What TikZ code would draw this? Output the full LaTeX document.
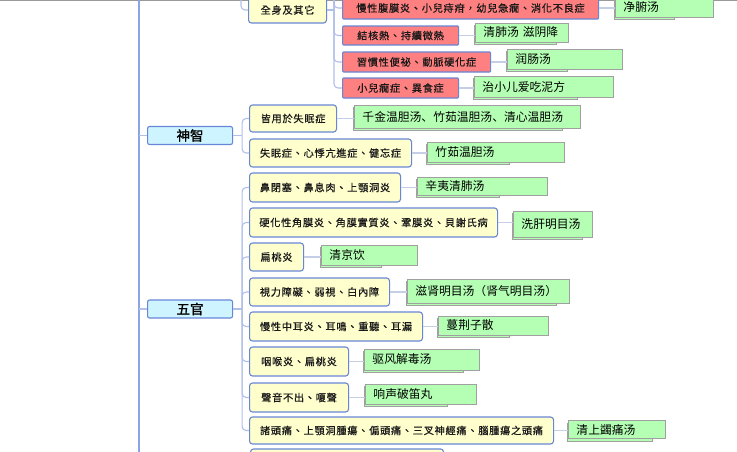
\documentclass[tikz,border=0pt]{standalone}
\usepackage{fontspec}
\newfontfamily\tcfont[LetterSpace=7,FakeBold=0.6]{Noto Sans CJK TC}
\newfontfamily\tcheavy[FakeBold=1.2]{Noto Sans CJK TC}
\newfontfamily\scfont{Noto Sans CJK SC}
\usetikzlibrary{positioning}
\definecolor{lineblue}{RGB}{176,192,232}
\definecolor{spineblue}{RGB}{140,164,228}
\definecolor{boxblue}{RGB}{104,134,214}
\definecolor{topicfill}{RGB}{206,244,255}
\definecolor{subfill}{RGB}{255,255,206}
\definecolor{pinkfill}{RGB}{255,128,128}
\definecolor{leaffill}{RGB}{180,255,180}
\definecolor{leafedge}{RGB}{160,160,160}
\definecolor{gline}{RGB}{196,206,230}
\begin{document}
\begin{tikzpicture}[x=1pt,y=-1pt,
 topic/.style={draw=boxblue,fill=topicfill,line width=1.1pt,rounded corners=2pt,anchor=west,inner sep=0pt,minimum height=18pt,font=\tcheavy\fontsize{13.5}{14}\selectfont},
 subtopic/.style={draw=boxblue,fill=subfill,line width=1.1pt,rounded corners=3pt,anchor=west,inner sep=0pt,text=black!90,font=\tcfont\fontsize{10.2}{11}\selectfont},
 pinktopic/.style={draw=boxblue,fill=pinkfill,line width=1.1pt,rounded corners=1pt,anchor=west,inner sep=0pt,text=black!90,font=\tcfont\fontsize{10.2}{11}\selectfont},
 leaf/.style={draw=leafedge,fill=leaffill,line width=.9pt,anchor=west,inner xsep=8pt,inner ysep=0pt,align=left,font=\scfont\fontsize{11.8}{13}\selectfont},
 leafback/.style={draw=leafedge,fill=leaffill,line width=.9pt},
 branch/.style={draw=lineblue,line width=1.1pt},
 leafline/.style={draw=gline,line width=1.2pt}]
\useasboundingbox (0,0) rectangle (737,451);
\clip (0,0) rectangle (737,451);
\draw[black!40,line width=1.5pt] (0,.5) -- (737,.5);
\coordinate (sptop) at (139,-5);
\coordinate (spbot) at (139,460);
\draw[draw=spineblue,line width=1.1pt] (sptop) -- (spbot);
\node[topic,minimum width=85pt] (shenzhi) at (147,135.5) {神智};
\node[topic,minimum width=85pt] (wuguan) at (147,309) {五官};
\foreach \n/\x/\yc/\w/\h/\t in {
 quanshen/248/10/78/26/全身及其它,
 jieyong/249/118.5/87/27/皆用於失眠症,
 shimian/249/153/162/28/失眠症、心悸亢進症、健忘症,
 bibi/249/187.5/151/29/鼻閉塞、鼻息肉、上顎洞炎,
 yinghua/249/222.5/248/29/硬化性角膜炎、角膜實質炎、鞏膜炎、貝謝氏病,
 biantao/249/257/54/28/扁桃炎,
 shili/249/292/140/28/視力障礙、弱視、白內障,
 zhonger/249/326.5/173/29/慢性中耳炎、耳鳴、重聽、耳漏,
 yanhou/249/361.5/99/29/咽喉炎、扁桃炎,
 shengyin/249/397.5/99/29/聲音不出、嗄聲,
 zhutou/249/430.5/304/27/諸頭痛、上顎洞腫瘍、偏頭痛、三叉神經痛、腦腫瘍之頭痛,
 nextsub/250/463/193/28/{}}
 \node[subtopic,minimum width=\w pt,minimum height=\h pt] (\n) at (\x,\yc) {\t};
\foreach \n/\yc/\w/\h/\t in {
 pa/8/256/22/慢性腹膜炎、小兒痔疳，幼兒急癇、消化不良症,
 pb/35.5/116/19/結核熱、持續微熱,
 pc/62/148/20/習慣性便祕、動脈硬化症,
 pd/88/116/20/小兒癇症、異食症}
 \node[pinktopic,minimum width=\w pt,minimum height=\h pt] (\n) at (342,\yc) {\t};
\foreach \n/\x/\yc/\w/\h/\b/\t in {
 ga/615/7/98/20/60/净腑汤,
 gb/475/32.5/93/19/82/清肺汤 滋阴降,
 gc/507/59/115/20/61/润肠汤,
 gd/474/86.5/139/21/104/治小儿爱吃泥方,
 ge/354/116.5/226/23/209/千金温胆汤、竹茹温胆汤、清心温胆汤,
 gf/427/152/137/20/83/竹茹温胆汤,
 gg/417/186/130/18/83/辛夷清肺汤,
 gh/513/224/79/26/70/洗肝明目汤,
 gi/321/255/96/20/61/清京饮,
 gj/407/291/162/24/150/滋肾明目汤（肾气明目汤）,
 gk/438/325.5/110/19/72/蔓荆子散,
 gl/364/359.5/115/21/100/驱风解毒汤,
 gm/365/394/111/20/83/响声破笛丸,
 gn/568/429.5/97/18/85/清上蠲痛汤}{
 \pgfmathsetmacro{\tw}{\w-16}
 \draw[leafback] (\x-1,\yc-\h/2+2.5) rectangle (\x-1+\b,\yc+\h/2+2.5);
 \node[leaf,text width=\tw pt,minimum height=\h pt] (\n) at (\x,\yc) {\mbox{\t}};
}
% branches
\foreach \c in {shenzhi,wuguan}
 \draw[branch] (\c.west -| sptop) -- (\c.west);
\coordinate[right=9pt of shenzhi.east] (jshen);
\coordinate[right=9pt of wuguan.east] (jwu);
\coordinate (jtop) at (241,-20);
\coordinate (ptop) at (334,-10);
\draw[branch] (shenzhi.east) -- (jshen);
\draw[branch] (wuguan.east) -- (jwu);
\draw[branch] (quanshen.east) -- (quanshen.east -| ptop);
\draw[branch,rounded corners=4pt] (jtop) |- (quanshen.west);
\foreach \c in {jieyong,shimian}
 \draw[branch,rounded corners=4pt] (jshen) |- (\c.west);
\foreach \c in {bibi,yinghua,biantao,shili,zhonger,yanhou,shengyin,zhutou}
 \draw[branch,rounded corners=4pt] (jwu) |- (\c.west);
\foreach \c in {pa,pb,pc,pd}
 \draw[branch,rounded corners=4pt] (ptop) |- (\c.west);
\foreach \a/\b in {pa/ga,pb/gb,pc/gc,pd/gd,jieyong/ge,shimian/gf,bibi/gg,yinghua/gh,biantao/gi,shili/gj,zhonger/gk,yanhou/gl,shengyin/gm,zhutou/gn}
 \draw[leafline] (\a.east) -- (\a.east -| \b.west);
\end{tikzpicture}
\end{document}
